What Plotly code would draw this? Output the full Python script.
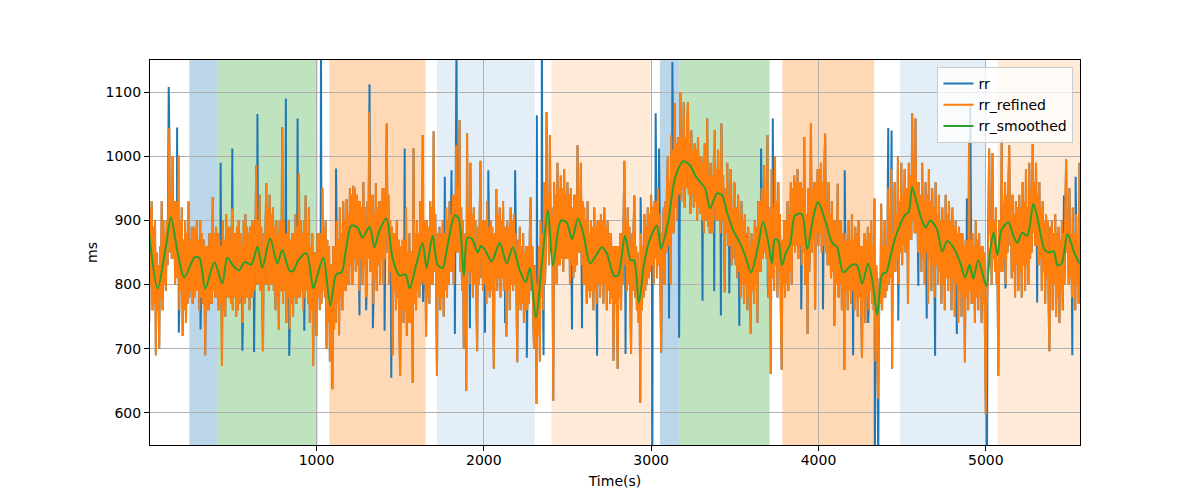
import plotly.graph_objects as go

# ---------------- data ----------------
# rr_refined: main beats, one every 10 s (t = 0 ... 5560 s)
rr_refined_main = [
    740, 930, 760, 900, 690, 830, 700, 930, 760, 880,
    790, 960, 1044, 840, 1000, 800, 930, 1001, 760, 920,
    720, 900, 740, 930, 780, 890, 770, 885, 790, 870,
    760, 880, 770, 690, 860, 760, 880, 770, 936, 780,
    890, 760, 870, 673, 900, 750, 910, 780, 890, 918,
    760, 880, 750, 900, 770, 860, 740, 910, 780, 880,
    760, 900, 780, 880, 986, 800, 940, 790, 696, 880,
    958, 790, 940, 800, 920, 760, 900, 730, 900, 1045,
    770, 880, 740, 900, 730, 880, 750, 910, 770, 974,
    780, 880, 760, 939, 790, 920, 740, 880, 673, 850,
    720, 880, 760, 951, 790, 900, 700, 860, 680, 637,
    860, 740, 900, 721, 920, 760, 930, 790, 933, 800,
    950, 800, 954, 820, 940, 790, 930, 800, 960, 780,
    800, 1069, 820, 940, 770, 958, 790, 930, 800, 950,
    800, 950, 1051, 800, 900, 690, 880, 760, 900, 720,
    658, 870, 740, 920, 720, 880, 740, 647, 1012, 760,
    900, 780, 930, 1033, 800, 719, 900, 770, 930, 800,
    1039, 800, 658, 890, 760, 900, 750, 920, 780, 930,
    820, 940, 800, 1017, 850, 1056, 820, 900, 700, 634,
    1036, 800, 990, 780, 920, 780, 696, 900, 993, 790,
    900, 770, 930, 780, 900, 760, 669, 949, 790, 920,
    780, 930, 790, 719, 900, 760, 920, 790, 910, 780,
    679, 890, 760, 880, 740, 860, 760, 880, 936, 750,
    700, 614, 800, 680, 900, 760, 960, 1069, 880, 1033,
    850, 619, 960, 800, 990, 830, 970, 820, 980, 840,
    960, 800, 950, 810, 940, 830, 1017, 850, 990, 800,
    920, 770, 930, 780, 900, 760, 920, 770, 900, 780,
    910, 770, 920, 760, 900, 770, 880, 681, 860, 740,
    669, 880, 760, 900, 993, 790, 920, 780, 692, 890,
    939, 760, 850, 616, 880, 780, 910, 800, 920, 820,
    940, 800, 930, 810, 950, 780, 694, 920, 800, 960,
    1000, 800, 1033, 880, 1083, 900, 1030, 1100, 930, 1084,
    920, 1060, 1084, 910, 1040, 920, 1020, 900, 1030, 910,
    1000, 880, 1020, 1059, 890, 990, 880, 1000, 1041, 900,
    1010, 880, 1051, 900, 788, 990, 860, 980, 830, 960,
    955, 810, 940, 780, 930, 770, 910, 760, 890, 723,
    880, 770, 900, 740, 930, 820, 950, 986, 850, 1033,
    780, 661, 980, 790, 1000, 780, 960, 760, 667, 900,
    780, 930, 790, 960, 800, 970, 850, 980, 840, 960,
    830, 1030, 800, 723, 950, 1051, 850, 960, 761, 980,
    860, 990, 850, 980, 1035, 830, 960, 810, 930, 736,
    900, 957, 780, 900, 760, 667, 880, 760, 900, 770,
    910, 760, 890, 750, 900, 770, 686, 880, 740, 890,
    760, 900, 770, 934, 680, 622, 700, 926, 760, 900,
    780, 950, 800, 980, 669, 960, 820, 1000, 800, 990,
    830, 980, 850, 770, 990, 870, 1067, 880, 1059, 850,
    960, 820, 990, 800, 960, 770, 980, 790, 950, 780,
    960, 800, 940, 770, 920, 760, 940, 790, 930, 760,
    920, 750, 900, 740, 890, 750, 880, 679, 870, 760,
    1025, 770, 880, 740, 900, 760, 880, 740, 860, 730,
    598, 870, 1012, 800, 1005, 820, 920, 658, 900, 1025,
    820, 960, 800, 950, 1017, 810, 940, 780, 930, 790,
    940, 780, 960, 790, 980, 800, 990, 850, 1019, 860,
    990, 830, 960, 790, 930, 770, 910, 760, 696, 900,
    760, 910, 750, 890, 740, 900, 760, 920, 995, 800,
    950, 780, 920, 760, 910, 770, 990,
]
# rr_refined: the in-between beats that fill the dense band (one per main beat)
rr_refined_between = [
    920, 800, 890, 770, 850, 760, 860, 780, 900, 800,
    900, 830, 850, 940, 840, 930, 820, 810, 900, 790,
    870, 760, 880, 770, 870, 790, 890, 780, 900, 790,
    900, 780, 870, 850, 760, 860, 770, 880, 790, 880,
    780, 880, 770, 860, 760, 870, 780, 890, 790, 770,
    880, 780, 890, 760, 880, 780, 900, 770, 890, 780,
    890, 780, 900, 790, 800, 900, 790, 890, 880, 800,
    800, 920, 800, 910, 790, 890, 780, 880, 790, 800,
    900, 790, 880, 780, 870, 770, 880, 780, 890, 780,
    900, 790, 900, 780, 880, 770, 860, 760, 850, 760,
    880, 780, 880, 770, 890, 780, 870, 740, 830, 830,
    730, 860, 770, 870, 780, 880, 790, 900, 800, 910,
    830, 940, 840, 950, 830, 930, 840, 920, 830, 920,
    930, 840, 940, 820, 910, 810, 920, 830, 930, 840,
    950, 840, 850, 940, 820, 890, 790, 880, 780, 870,
    860, 760, 870, 760, 850, 740, 850, 850, 770, 880,
    790, 880, 800, 820, 900, 870, 780, 890, 800, 920,
    820, 910, 880, 780, 880, 780, 880, 790, 900, 800,
    910, 820, 940, 850, 950, 850, 920, 790, 860, 880,
    820, 920, 820, 910, 800, 900, 890, 800, 810, 900,
    800, 900, 790, 890, 790, 890, 880, 810, 910, 810,
    900, 810, 890, 870, 790, 890, 800, 900, 800, 880,
    870, 770, 860, 770, 850, 760, 860, 770, 790, 860,
    830, 800, 720, 860, 780, 880, 800, 840, 940, 830,
    920, 880, 830, 940, 830, 950, 840, 950, 840, 940,
    840, 940, 830, 920, 820, 940, 850, 930, 830, 930,
    800, 900, 790, 880, 790, 890, 790, 890, 800, 900,
    800, 900, 800, 890, 790, 880, 780, 860, 770, 860,
    860, 780, 880, 800, 830, 900, 800, 890, 880, 790,
    780, 860, 740, 820, 760, 860, 790, 890, 810, 910,
    830, 920, 840, 930, 830, 910, 880, 820, 930, 850,
    860, 960, 880, 1010, 920, 1020, 940, 950, 1030, 950,
    1030, 950, 940, 1020, 940, 1010, 930, 1010, 920, 1000,
    900, 990, 900, 910, 970, 880, 970, 880, 900, 980,
    900, 980, 900, 970, 950, 880, 940, 860, 920, 840,
    830, 920, 820, 910, 800, 900, 800, 880, 780, 860,
    790, 870, 800, 890, 820, 930, 840, 860, 940, 840,
    920, 880, 810, 920, 830, 930, 820, 910, 870, 800,
    900, 800, 910, 820, 950, 860, 960, 860, 960, 860,
    950, 850, 910, 890, 820, 860, 950, 870, 960, 880,
    980, 880, 960, 860, 850, 930, 830, 910, 820, 900,
    810, 800, 900, 800, 880, 850, 790, 870, 790, 870,
    790, 870, 780, 880, 780, 860, 860, 780, 870, 780,
    880, 790, 860, 760, 830, 800, 810, 770, 860, 780,
    860, 790, 880, 810, 880, 820, 910, 840, 930, 850,
    940, 860, 950, 940, 870, 970, 900, 980, 880, 960,
    860, 940, 840, 930, 850, 940, 840, 930, 830, 920,
    830, 910, 820, 900, 800, 900, 810, 910, 810, 900,
    810, 890, 800, 880, 790, 880, 780, 860, 780, 870,
    790, 870, 770, 860, 780, 870, 790, 860, 770, 850,
    760, 790, 880, 900, 840, 900, 800, 810, 820, 850,
    930, 840, 940, 850, 860, 930, 820, 910, 830, 920,
    820, 920, 830, 930, 830, 920, 840, 950, 880, 960,
    860, 940, 840, 920, 820, 900, 810, 900, 890, 800,
    880, 800, 880, 780, 870, 790, 880, 800, 850, 900,
    810, 880, 800, 880, 800, 870, 840,
]
beat_step = 5  # seconds between successive plotted beats

# raw rr beats that the refinement removed (artefacts)
rr_artifact_t = [117, 167, 177, 307, 427, 497, 557, 627, 647, 817, 837, 887, 927,
                 1027, 1117, 1257, 1297, 1317, 1337, 1407, 1447, 1527, 1637, 1767,
                 1807, 1827, 1837, 1917, 2007, 2027, 2127, 2187, 2257, 2317, 2347,
                 2357, 2527, 2587, 2677, 2847, 2937, 3007, 3027, 3047, 3107, 3127,
                 3167, 3307, 3377, 3417, 3467, 3527, 3657, 3697, 3727, 3897, 4027,
                 4157, 4207, 4297, 4337, 4357, 4417, 4437, 4477, 4597, 4647, 4697,
                 4827, 4887, 4907, 5007, 5117, 5307, 5467, 5517, 5537]
rr_artifact_ms = [1108, 1045, 725, 730, 990, 1012, 697, 695, 1066, 1090, 689, 1059, 728,
                  1200, 981, 752, 760, 1112, 732, 728, 655, 1012, 773, 968,
                  978, 723, 1200, 732, 725, 978, 740, 978, 686, 1064, 1200,
                  690, 730, 732, 689, 692, 936, 500, 1067, 1012, 747, 1147,
                  717, 775, 790, 752, 786, 736, 1012, 798, 1059, 761, 761,
                  978, 690, 740, 500, 500, 1044, 1040, 744, 798, 747, 689,
                  723, 934, 1083, 500, 794, 772, 939, 690, 968]

# smoothed rr
smooth_t = [0, 50, 100, 130, 170, 210, 270, 300, 335, 390,
            437, 467, 500, 537, 569, 610, 647, 676, 723, 766,
            796, 838, 860, 892, 940, 981, 1005, 1041, 1083, 1118,
            1150, 1178, 1208, 1245, 1275, 1317, 1346, 1376, 1418, 1454,
            1496, 1532, 1556, 1598, 1634, 1658, 1694, 1724, 1754, 1784,
            1826, 1850, 1880, 1903, 1930, 1963, 1983, 2005, 2047, 2095,
            2137, 2173, 2215, 2251, 2275, 2311, 2347, 2383, 2413, 2461,
            2495, 2527, 2563, 2593, 2635, 2665, 2706, 2736, 2778, 2802,
            2843, 2877, 2897, 2927, 2957, 2993, 3035, 3059, 3101, 3143,
            3191, 3231, 3268, 3322, 3352, 3394, 3424, 3453, 3490, 3531,
            3561, 3597, 3639, 3669, 3704, 3722, 3740, 3760, 3782, 3806,
            3830, 3860, 3900, 3932, 3968, 3997, 4040, 4082, 4112, 4148,
            4201, 4231, 4261, 4297, 4327, 4351, 4381, 4405, 4429, 4459,
            4489, 4515, 4539, 4560, 4586, 4615, 4640, 4668, 4708, 4740,
            4770, 4806, 4846, 4877, 4903, 4925, 4955, 5003, 5027, 5047,
            5069, 5095, 5135, 5165, 5188, 5218, 5248, 5284, 5314, 5350,
            5376, 5406, 5428, 5454, 5488, 5528, 5560]
smooth_ms = [880, 794, 860, 905, 850, 811, 842, 842, 794, 835,
             802, 842, 830, 822, 835, 831, 859, 826, 872, 833,
             854, 822, 821, 838, 849, 794, 814, 842, 767, 816,
             819, 858, 892, 889, 873, 890, 858, 884, 903, 842,
             814, 816, 794, 833, 865, 826, 876, 831, 826, 862,
             908, 903, 814, 873, 871, 850, 860, 855, 836, 865,
             833, 858, 822, 804, 826, 748, 833, 916, 830, 900,
             897, 871, 903, 881, 833, 843, 858, 848, 814, 814,
             876, 838, 838, 772, 831, 871, 892, 856, 897, 966,
             992, 986, 968, 950, 919, 942, 939, 913, 885, 865,
             846, 819, 860, 898, 860, 833, 871, 868, 830, 850,
             862, 908, 910, 855, 903, 929, 900, 865, 858, 819,
             831, 830, 801, 833, 798, 752, 816, 819, 842, 873,
             894, 908, 913, 952, 929, 903, 889, 900, 886, 852,
             868, 858, 835, 811, 831, 809, 838, 798, 855, 881,
             846, 886, 897, 876, 865, 881, 876, 926, 897, 855,
             850, 852, 830, 833, 879, 850, 833]

# shaded phases
span_start = [240, 405, 1077, 1719, 2404, 3052, 3168, 3784, 4488, 5071]
span_end = [405, 1007, 1652, 2304, 2996, 3168, 3708, 4333, 5001, 5600]
span_color = ["rgba(31,119,180,0.30)", "rgba(44,160,44,0.30)", "rgba(255,127,14,0.30)",
              "rgba(31,119,180,0.12)", "rgba(255,127,14,0.16)", "rgba(31,119,180,0.30)",
              "rgba(44,160,44,0.30)", "rgba(255,127,14,0.30)", "rgba(31,119,180,0.12)",
              "rgba(255,127,14,0.16)"]

x_ticks = [1000, 2000, 3000, 4000, 5000]
y_ticks = [600, 700, 800, 900, 1000, 1100]

# ---------------- build series ----------------
rr_refined = []
for i, (m, b) in enumerate(zip(rr_refined_main, rr_refined_between)):
    rr_refined.extend((m, b) if i % 2 == 0 else (b, m))
refined_t = [k * beat_step for k in range(len(rr_refined))]
rr_pairs = sorted(list(zip(refined_t, rr_refined)) + list(zip(rr_artifact_t, rr_artifact_ms)))
rr_t = [p[0] for p in rr_pairs]
rr_ms = [p[1] for p in rr_pairs]

fig = go.Figure()
for s, e, c in zip(span_start, span_end, span_color):
    fig.add_vrect(x0=s, x1=e, fillcolor=c, line_width=0, layer="below")

fig.add_trace(go.Scatter(x=rr_t, y=rr_ms, mode="lines", name="rr",
                         line=dict(color="#1f77b4", width=2)))
fig.add_trace(go.Scatter(x=refined_t, y=rr_refined, mode="lines", name="rr_refined",
                         line=dict(color="#ff7f0e", width=2)))
fig.add_trace(go.Scatter(x=smooth_t, y=smooth_ms, mode="lines", name="rr_smoothed",
                         line=dict(color="#2ca02c", width=2, shape="spline", smoothing=0.8)))

axis_common = dict(showgrid=True, gridcolor="#b0b0b0", gridwidth=0.8, zeroline=False,
                   showline=True, linecolor="black", linewidth=1, mirror=True,
                   ticks="outside", ticklen=5, tickcolor="black", tickwidth=1,
                   tickfont=dict(size=14, color="black"))
fig.update_xaxes(range=[5, 5563], tickvals=x_ticks, ticklabelstandoff=-3,
                 title=dict(text="Time(s)", standoff=9, font=dict(size=14)), **axis_common)
fig.update_yaxes(range=[550, 1150], tickvals=y_ticks, title=dict(text="ms", standoff=4,
                 font=dict(size=14)), **axis_common)

fig.update_layout(
    width=1200, height=500,
    margin=dict(l=150, r=120, t=60, b=55, autoexpand=False),
    plot_bgcolor="white", paper_bgcolor="white",
    font=dict(family="DejaVu Sans", size=14, color="black"),
    hovermode=False,
    legend=dict(x=0.993, y=0.982, xanchor="right", yanchor="top",
                bgcolor="rgba(255,255,255,0.8)", bordercolor="#cccccc", borderwidth=1,
                font=dict(size=14), tracegroupgap=0),
)

fig.write_html("out.html", config={"displayModeBar": False},
               post_script="document.body.style.margin='0';")
